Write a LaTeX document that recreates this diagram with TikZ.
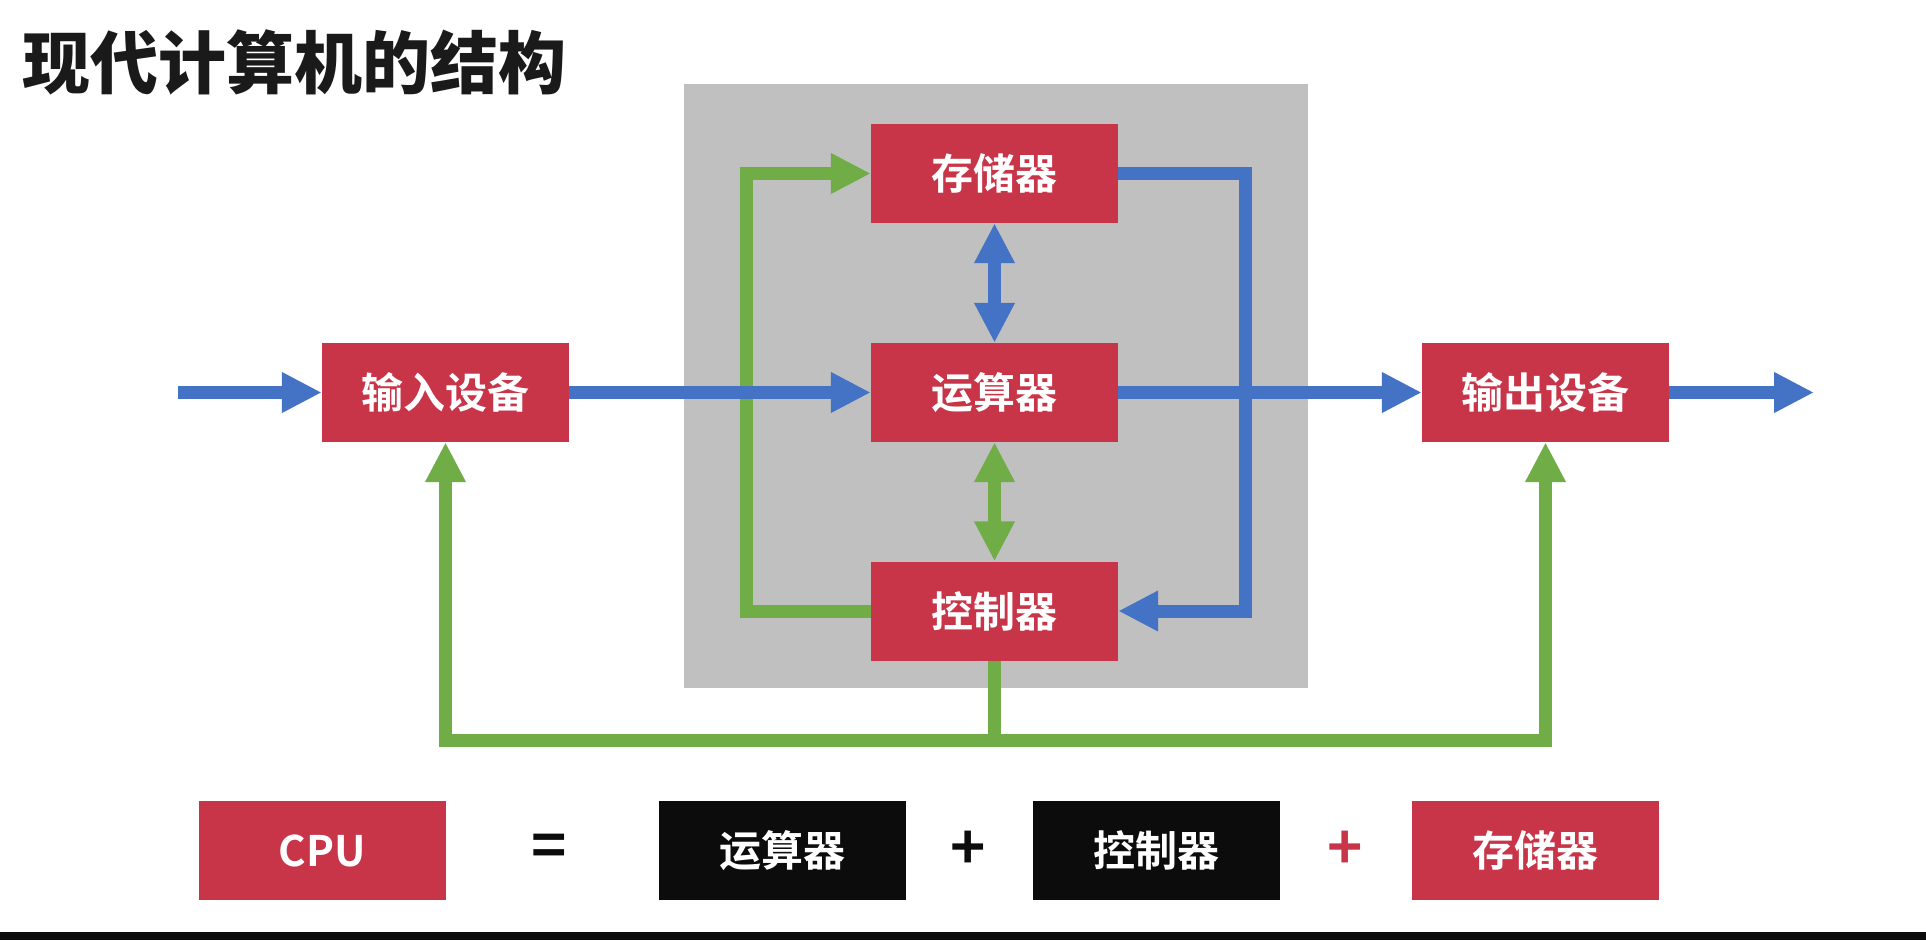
\documentclass[tikz,border=0pt]{standalone}
\usepackage{fontspec}
\setmainfont{Noto Sans CJK SC}[BoldFont={Noto Sans CJK SC Bold}]
\newfontfamily\headingfont{Noto Sans CJK SC Black}
\usetikzlibrary{arrows.meta}

\definecolor{boxred}{RGB}{200,52,72}
\definecolor{flowblue}{RGB}{68,114,196}
\definecolor{flowgreen}{RGB}{112,173,71}
\definecolor{panelgray}{RGB}{192,192,192}
\definecolor{inkblack}{RGB}{12,12,12}
\definecolor{titleink}{RGB}{26,26,26}

\tikzset{
  unit/.style={fill=boxred, minimum width=247pt, minimum height=99pt,
    inner sep=0pt, text=white, font=\fontsize{42}{42}\selectfont\bfseries},
  darkunit/.style={unit, fill=inkblack},
  opsign/.style={inner sep=0pt, font=\fontsize{60}{60}\selectfont\bfseries},
  headtip/.tip={Triangle[length=40pt,width=38pt]},
  bluearrow/.style={draw=flowblue, line width=13pt, -headtip},
  greenarrow/.style={draw=flowgreen, line width=13pt, -headtip},
  bluetwoway/.style={draw=flowblue, line width=13pt, headtip-headtip},
  greentwoway/.style={draw=flowgreen, line width=13pt, headtip-headtip},
}

\begin{document}
\begin{tikzpicture}[x=1pt,y=-1pt]
  \useasboundingbox (0,0) rectangle (1926,940);
  \fill[white] (0,0) rectangle (1926,940);

  % heading
  \node[anchor=base west, inner sep=0pt, text=titleink,
        font=\fontsize{68}{68}\selectfont\headingfont] (title) at (22,88) {现代计算机的结构};

  % CPU panel
  \node[fill=panelgray, minimum width=624pt, minimum height=604pt, inner sep=0pt]
       (panel) at (996,386) {};

  % units
  \node[unit] (mem) at (994.5,173.5) {存储器};
  \node[unit] (alu) at (994.5,392.5) {运算器};
  \node[unit] (ctl) at (994.5,611)   {控制器};
  \node[unit] (in)  at (445.5,392.5) {输入设备};
  \node[unit] (out) at (1545.5,392.5) {输出设备};

  % routing points
  \coordinate (src)  at (178,392.5);
  \coordinate (sink) at (1814,392.5);
  \coordinate (busL) at (746,392.5);
  \coordinate (busR) at (1245,392.5);
  \coordinate (busB) at (994.5,740);

  % control signals
  \draw[greenarrow] (ctl.west) -| (busL |- mem.west) -- (mem.west);
  \draw[greenarrow] (ctl.south) |- (busB) -| (in.south);
  \draw[greenarrow] (ctl.south) |- (busB) -| (out.south);
  \draw[greentwoway] (alu.south) -- (ctl.north);

  % data flow
  \draw[bluearrow] (src) -- (in.west);
  \draw[bluearrow] (in.east) -- (alu.west);
  \draw[bluearrow] (alu.east) -- (out.west);
  \draw[bluearrow] (out.east) -- (sink);
  \draw[bluearrow] (mem.east) -| (busR |- ctl.east) -- (ctl.east);
  \draw[bluetwoway] (mem.south) -- (alu.north);

  % CPU composition
  \node[unit] (cpu) at (322,850.5) {CPU};
  \node[opsign, text=inkblack] (eq) at (549,850.5) {=};
  \node[darkunit] (alu2) at (782.5,850.5) {运算器};
  \node[opsign, text=inkblack] (plus1) at (968,850.5) {+};
  \node[darkunit] (ctl2) at (1156.5,850.5) {控制器};
  \node[opsign, text=boxred] (plus2) at (1345,850.5) {+};
  \node[unit] (mem2) at (1535.5,850.5) {存储器};

  % bottom strip
  \fill[inkblack] (0,932) rectangle (1926,940);
\end{tikzpicture}
\end{document}
